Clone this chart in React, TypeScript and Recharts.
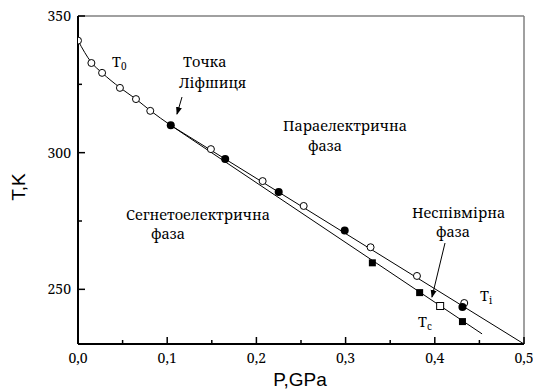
import React from 'react';
import { ComposedChart, Line, Scatter, XAxis, YAxis, ReferenceLine } from 'recharts';

const W = 533;
const H = 390;
// Liberation Serif here lacks digits/Cyrillic, so Noto Serif is used
const SERIF = "'Noto Serif', 'DejaVu Serif', serif";
const SANS = "'Liberation Sans', Arial, sans-serif";

// T0 curve from P=0 down to the Lifshitz point
const t0CurveP = [0, 0.015, 0.027, 0.047, 0.065, 0.081, 0.104];
const t0CurveT = [341, 333, 329.2, 323.8, 319.6, 315.4, 310];
// Ti and Tc lines from the Lifshitz point
const tiLineP = [0.104, 0.5];
const tiLineT = [310, 230];
const tcLineP = [0.104, 0.453];
const tcLineT = [310, 233.7];

// measured points
const openCircleP = [0, 0.015, 0.027, 0.047, 0.065, 0.081, 0.149, 0.207, 0.253, 0.328, 0.38, 0.433];
const openCircleT = [341, 332.8, 329.2, 323.7, 319.6, 315.3, 301.3, 289.6, 280.5, 265.4, 254.9, 245];
const filledCircleP = [0.104, 0.165, 0.225, 0.299, 0.431];
const filledCircleT = [310, 297.7, 285.6, 271.5, 243.5];
const filledSquareP = [0.33, 0.383, 0.431];
const filledSquareT = [259.7, 248.8, 238.2];
const openSquareP = [0.406];
const openSquareT = [243.9];

const xTicks = [0, 0.05, 0.1, 0.15, 0.2, 0.25, 0.3, 0.35, 0.4, 0.45, 0.5];
const xMajor = [0, 0.1, 0.2, 0.3, 0.4, 0.5];
const yTicks = [250, 275, 300, 325, 350];
const yMajor = [250, 300, 350];

const zip = (ps: number[], ts: number[]) => ps.map((p, i) => ({ p, t: ts[i] }));

const isMajor = (list: number[], v: number) => list.some((m) => Math.abs(m - v) < 1e-6);

const tickText = { fontFamily: SERIF, fontSize: 14 };
const serifText = { fontFamily: SERIF, fontSize: 14.5 };
const sansText = { fontFamily: SANS, fontSize: 19 };

function XTick(props: any) {
  const { x, y, payload } = props;
  const major = isMajor(xMajor, payload.value);
  return (
    <g>
      <line x1={x} y1={y} x2={x} y2={y - (major ? 7 : 4)} stroke="#000" strokeWidth={1.5} />
      {major && (
        <text x={x} y={y + 19} textAnchor="middle" fill="#000" style={tickText}>
          {payload.value.toFixed(1).replace('.', ',')}
        </text>
      )}
    </g>
  );
}

function YTick(props: any) {
  const { x, y, payload } = props;
  const major = isMajor(yMajor, payload.value);
  return (
    <g>
      <line x1={x} y1={y} x2={x + (major ? 7 : 4)} y2={y} stroke="#000" strokeWidth={1.5} />
      {major && (
        <text x={x - 7} y={y + 5} textAnchor="end" fill="#000" style={tickText}>
          {payload.value}
        </text>
      )}
    </g>
  );
}

const openCircle = (p: any) => <circle cx={p.cx} cy={p.cy} r={3.5} fill="#fff" stroke="#000" strokeWidth={1} />;
const filledCircle = (p: any) => <circle cx={p.cx} cy={p.cy} r={4} fill="#000" />;
const filledSquare = (p: any) => <rect x={p.cx - 3.5} y={p.cy - 3.5} width={7} height={7} fill="#000" />;
const openSquare = (p: any) => (
  <rect x={p.cx - 3.5} y={p.cy - 3.5} width={7} height={7} fill="#fff" stroke="#000" strokeWidth={1} />
);

function Annotations() {
  return (
    <svg width={W} height={H} style={{ position: 'absolute', left: 0, top: 0, pointerEvents: 'none' }}>
      <defs>
        <marker id="arr" markerWidth="8" markerHeight="8" refX="7" refY="4" orient="auto" markerUnits="userSpaceOnUse">
          <path d="M0,1 L8,4 L0,7 Z" fill="#000" />
        </marker>
      </defs>
      <g fill="#000" style={serifText}>
        <text x={112} y={67}>
          T<tspan fontSize={10} dy={3}>0</tspan>
        </text>
        <text x={183} y={67}>Точка</text>
        <text x={179} y={88}>Ліфшиця</text>
        <text x={283} y={131}>Параелектрична</text>
        <text x={308} y={151}>фаза</text>
        <text x={126} y={220}>Сегнетоелектрична</text>
        <text x={151} y={239}>фаза</text>
        <text x={412} y={218}>Неспівмірна</text>
        <text x={436} y={237}>фаза</text>
        <text x={480} y={301}>
          T<tspan fontSize={10} dy={3}>i</tspan>
        </text>
        <text x={418} y={327}>
          T<tspan fontSize={10} dy={3}>c</tspan>
        </text>
      </g>
      <line x1={182} y1={97} x2={177} y2={114} stroke="#000" strokeWidth={1} markerEnd="url(#arr)" />
      <line x1={445} y1={243} x2={432} y2={297} stroke="#000" strokeWidth={1} markerEnd="url(#arr)" />
      <text x={300} y={386} textAnchor="middle" fill="#000" style={sansText}>P,GPa</text>
      <text x={25} y={187} textAnchor="middle" fill="#000" style={sansText} transform="rotate(-90 25 187)">
        T,K
      </text>
    </svg>
  );
}

export default function App() {
  return (
    <div style={{ position: 'absolute', left: 0, top: 0, width: W, height: H, background: '#fff' }}>
      <ComposedChart width={W} height={H} margin={{ top: 16, right: 9, bottom: 16, left: 38 }}>
        <XAxis
          type="number"
          dataKey="p"
          domain={[0, 0.5]}
          ticks={xTicks}
          interval={0}
          height={30}
          tickLine={false}
          tickSize={0}
          tickMargin={0}
          tick={XTick}
          axisLine={{ stroke: '#000', strokeWidth: 2 }}
          allowDataOverflow
        />
        <YAxis
          type="number"
          dataKey="t"
          domain={[230, 350]}
          ticks={yTicks}
          interval={0}
          width={40}
          tickLine={false}
          tickSize={0}
          tickMargin={0}
          tick={YTick}
          axisLine={{ stroke: '#000', strokeWidth: 2 }}
          allowDataOverflow
        />
        <ReferenceLine y={350} stroke="#808080" strokeWidth={1.5} />
        <ReferenceLine x={0.5} stroke="#808080" strokeWidth={1.5} />
        <Line data={zip(t0CurveP, t0CurveT)} dataKey="t" type="monotone" stroke="#000" strokeWidth={1} dot={false} isAnimationActive={false} />
        <Line data={zip(tiLineP, tiLineT)} dataKey="t" type="linear" stroke="#000" strokeWidth={1} dot={false} isAnimationActive={false} />
        <Line data={zip(tcLineP, tcLineT)} dataKey="t" type="linear" stroke="#000" strokeWidth={1} dot={false} isAnimationActive={false} />
        <Scatter data={zip(openCircleP, openCircleT)} dataKey="t" shape={openCircle} isAnimationActive={false} />
        <Scatter data={zip(openSquareP, openSquareT)} dataKey="t" shape={openSquare} isAnimationActive={false} />
        <Scatter data={zip(filledSquareP, filledSquareT)} dataKey="t" shape={filledSquare} isAnimationActive={false} />
        <Scatter data={zip(filledCircleP, filledCircleT)} dataKey="t" shape={filledCircle} isAnimationActive={false} />
      </ComposedChart>
      <Annotations />
    </div>
  );
}
